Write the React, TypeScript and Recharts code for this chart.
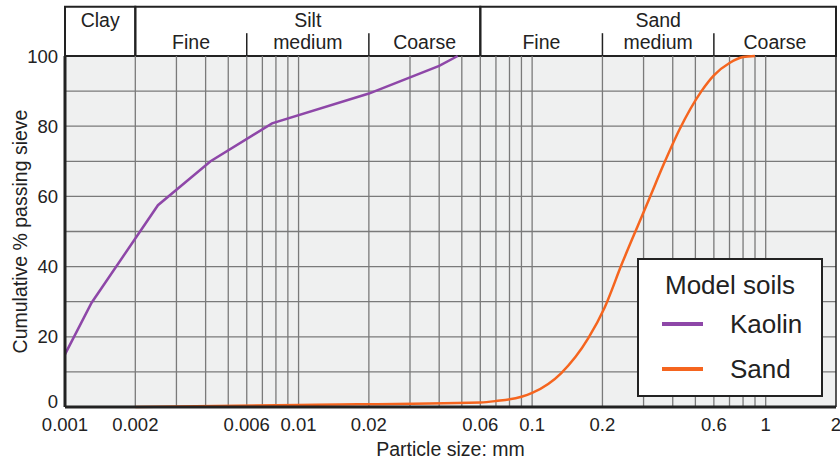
import {
  Label,
  Legend,
  Line,
  LineChart,
  ReferenceArea,
  ReferenceLine,
  XAxis,
  YAxis,
} from "recharts";

// particle size (mm) vs cumulative % passing
const kaolinSize = [0.001, 0.0013, 0.0025, 0.0042, 0.0077, 0.02, 0.04, 0.048];
const kaolinPassing = [15, 29.7, 57.5, 70, 80.8, 89.3, 97.2, 100];

const sandSize = [
  0.002, 0.01, 0.06, 0.07, 0.09, 0.1, 0.133, 0.174, 0.204, 0.243, 0.285, 0.318, 0.365, 0.427,
  0.531, 0.6, 0.7, 0.8, 0.9,
];
const sandPassing = [
  0, 0.6, 1.3, 1.7, 2.9, 4, 9.6, 19.6, 28.2, 41, 52, 59.5, 69, 79, 90, 94.5, 98, 99.7, 100,
];

const xTicks = [0.001, 0.002, 0.006, 0.01, 0.02, 0.06, 0.1, 0.2, 0.6, 1, 2];
const yTicks = [0, 20, 40, 60, 80, 100];
const xGrid = [
  0.002, 0.003, 0.004, 0.005, 0.006, 0.007, 0.008, 0.009, 0.01, 0.02, 0.03, 0.04, 0.05, 0.06,
  0.07, 0.08, 0.09, 0.1, 0.2, 0.3, 0.4, 0.5, 0.6, 0.7, 0.8, 0.9, 1,
];
const yGrid = [10, 20, 30, 40, 50, 60, 70, 80, 90];

// soil fraction header above the plot
const mainLabels = ["Clay", "Silt", "Sand"];
const mainEdges = [0.001, 0.002, 0.06, 2];
const subLabels = ["Fine", "medium", "Coarse", "Fine", "medium", "Coarse"];
const subEdges = [0.002, 0.006, 0.02, 0.06, 0.2, 0.6, 2];
const subDividers = [0.006, 0.02, 0.2, 0.6];

const kaolin = kaolinSize.map((size, i) => ({ size, pct: kaolinPassing[i] }));
const sand = sandSize.map((size, i) => ({ size, pct: sandPassing[i] }));

const FONT = "'Liberation Sans', Arial, Helvetica, sans-serif";
const INK = "#222";
const GRID = "#7a7a7a";
const HEADER_TOP = 114;
const SUB_TOP = 106.5;

const YTitle = ({ viewBox }: any) => {
  const cx = 20;
  const cy = viewBox.y + viewBox.height / 2;
  return (
    <text
      x={cx}
      y={cy}
      transform={`rotate(-90 ${cx} ${cy})`}
      textAnchor="middle"
      dominantBaseline="central"
      fill={INK}
      fontSize={19.5}
      fontFamily={FONT}
    >
      Cumulative % passing sieve
    </text>
  );
};

// the 0 label sits a little above the axis so it clears 0.001
const YTick = ({ x, y, payload }: any) => (
  <text
    x={x}
    y={payload.value === 0 ? y - 6 : y}
    textAnchor="end"
    dominantBaseline="central"
    fill={INK}
    fontSize={18.5}
    fontFamily={FONT}
  >
    {payload.value}
  </text>
);

const renderLegend = ({ payload }: any) => (
  <div
    style={{
      position: "relative",
      width: 186,
      height: 139,
      boxSizing: "border-box",
      border: `2px solid ${INK}`,
      background: "#fff",
      fontFamily: FONT,
      color: INK,
    }}
  >
    <div style={{ position: "absolute", top: 10, left: 26, fontSize: 26, lineHeight: "30px", whiteSpace: "nowrap" }}>
      Model soils
    </div>
    {(payload ?? []).map((p: any, i: number) => (
      <div key={p.value} style={{ position: "absolute", top: 49 + i * 45, left: 0, width: 182, height: 30 }}>
        <span style={{ position: "absolute", left: 23, top: 13, width: 41, height: 4, background: p.color }} />
        <span style={{ position: "absolute", left: 91, top: 0, fontSize: 26, lineHeight: "30px", whiteSpace: "nowrap" }}>
          {p.value}
        </span>
      </div>
    ))}
  </div>
);

const App = () => (
  <div style={{ position: "absolute", left: 0, top: 0, width: 840, height: 463, background: "#fff" }}>
    <LineChart width={840} height={463} margin={{ top: 56, right: 4, left: 0, bottom: 26 }}>
      <XAxis
        dataKey="size"
        type="number"
        scale="log"
        domain={[0.001, 2]}
        allowDataOverflow
        ticks={xTicks}
        interval={0}
        tickFormatter={(v: number) => String(v)}
        tick={{ fill: INK, fontSize: 18.5, fontFamily: FONT }}
        tickLine={false}
        tickSize={6}
        tickMargin={5}
        axisLine={{ stroke: INK, strokeWidth: 3 }}
        height={30}
      >
        <Label value="Particle size: mm" position="bottom" offset={5} fill={INK} fontSize={19.5} fontFamily={FONT} />
      </XAxis>
      <YAxis
        type="number"
        domain={[0, 100]}
        ticks={yTicks}
        interval={0}
        width={65}
        tick={<YTick />}
        tickLine={false}
        tickSize={6}
        tickMargin={1}
        axisLine={{ stroke: INK, strokeWidth: 3 }}
      >
        <Label content={YTitle} />
      </YAxis>

      <ReferenceArea x1={0.001} x2={2} y1={0} y2={100} fill="#eff0f0" fillOpacity={1} stroke="none" />
      {yGrid.map((v) => (
        <ReferenceLine key={`h${v}`} y={v} stroke={GRID} strokeWidth={1.3} />
      ))}
      {xGrid.map((v) => (
        <ReferenceLine key={`v${v}`} x={v} stroke={GRID} strokeWidth={1.3} />
      ))}
      <ReferenceLine x={2} stroke={INK} strokeWidth={1.5} />

      {mainLabels.map((name, i) => (
        <ReferenceArea
          key={`m${i}`}
          x1={mainEdges[i]}
          x2={mainEdges[i + 1]}
          y1={100}
          y2={HEADER_TOP}
          ifOverflow="visible"
          fill="none"
          stroke={INK}
          strokeWidth={2}
          label={{ value: name, position: "insideTop", offset: 6, fill: INK, fontSize: 19.5, fontFamily: FONT }}
        />
      ))}
      {subDividers.map((v) => (
        <ReferenceLine
          key={`d${v}`}
          segment={[
            { x: v, y: 100 },
            { x: v, y: SUB_TOP },
          ]}
          ifOverflow="visible"
          stroke={INK}
          strokeWidth={1.5}
        />
      ))}
      {subLabels.map((name, i) => (
        <ReferenceArea
          key={`s${i}`}
          x1={subEdges[i]}
          x2={subEdges[i + 1]}
          y1={100.7}
          y2={107.3}
          ifOverflow="visible"
          fill="none"
          stroke="none"
          label={{ value: name, position: "center", fill: INK, fontSize: 19.5, fontFamily: FONT }}
        />
      ))}

      <Line
        data={kaolin}
        dataKey="pct"
        name="Kaolin"
        type="linear"
        stroke="#8e47a8"
        strokeWidth={2.5}
        dot={false}
        isAnimationActive={false}
      />
      <Line
        data={sand}
        dataKey="pct"
        name="Sand"
        type="monotone"
        stroke="#f5651f"
        strokeWidth={2.5}
        dot={false}
        isAnimationActive={false}
      />
      <Legend
        layout="horizontal"
        verticalAlign="middle"
        align="center"
        content={renderLegend}
        wrapperStyle={{ left: 637, top: 258, width: 186, height: 139 }}
      />
    </LineChart>
  </div>
);

export default App;
